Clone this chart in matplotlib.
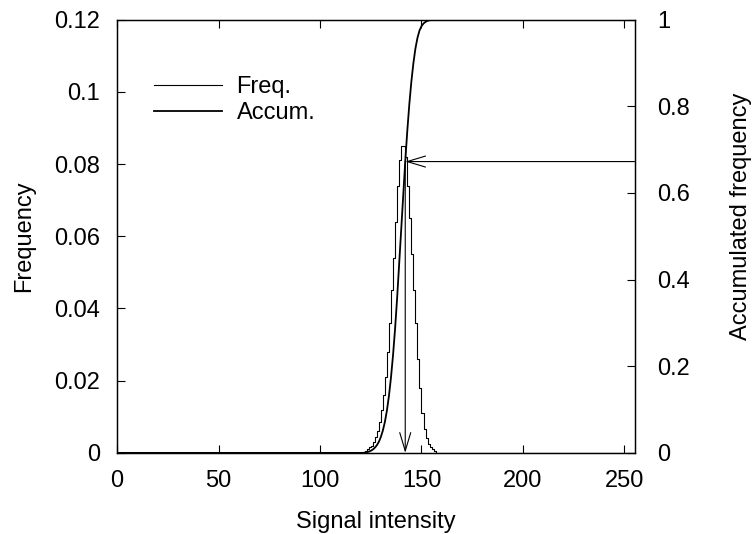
import numpy as np
from matplotlib import pyplot as plt
from matplotlib.ticker import FixedLocator, FuncFormatter

# histogram of signal intensity (bins 0..255), non-zero part starts at bin 122
first_bin = 122
freq_peak = [0.0005, 0.001, 0.0015, 0.002, 0.003, 0.0045, 0.006, 0.0085,
             0.012, 0.016, 0.021, 0.028, 0.036, 0.045, 0.054, 0.064,
             0.074, 0.081, 0.085, 0.085,
             0.082, 0.074, 0.065, 0.055, 0.045, 0.036, 0.026, 0.018,
             0.011, 0.0065, 0.004, 0.0025, 0.0015, 0.001, 0.0005]
threshold = 142

xticks = [0, 50, 100, 150, 200, 250]
freq_ticks = [0, 0.02, 0.04, 0.06, 0.08, 0.1, 0.12]
accum_ticks = [0, 0.2, 0.4, 0.6, 0.8, 1]

bins = np.arange(256)
freq = np.zeros(256)
freq[first_bin:first_bin + len(freq_peak)] = freq_peak
accum = np.cumsum(freq) / freq.sum()

plt.rcParams['font.family'] = ['Liberation Sans', 'DejaVu Sans']
plt.rcParams['font.size'] = 17

fig = plt.figure(figsize=(7.56, 5.34), dpi=100)
ax = fig.add_axes([0.1548, 0.1519, 0.6846, 0.8114])
ax2 = ax.twinx()

ax.step(bins, freq, where='post', color='k', lw=0.8, label='Freq.')
ax2.plot(bins, accum, color='k', lw=1.3, label='Accum.')

# threshold arrows: from right edge to the curve, then down to the x axis
y_thr = accum[threshold]
astyle = '->,head_length=0.6,head_width=0.18'
ax2.annotate('', xy=(threshold, y_thr), xytext=(255, y_thr),
             arrowprops=dict(arrowstyle=astyle, lw=0.8, color='k',
                             shrinkA=0, shrinkB=0, mutation_scale=22))
ax2.annotate('', xy=(threshold, 0), xytext=(threshold, y_thr),
             arrowprops=dict(arrowstyle=astyle, lw=0.8, color='k',
                             shrinkA=0, shrinkB=0, mutation_scale=22))

ax.set_xlim(0, 255)
ax.set_ylim(0, 0.12)
ax2.set_ylim(0, 1)

fmt = FuncFormatter(lambda v, p: f'{v:g}')
ax.xaxis.set_major_locator(FixedLocator(xticks))
ax.yaxis.set_major_locator(FixedLocator(freq_ticks))
ax2.yaxis.set_major_locator(FixedLocator(accum_ticks))
ax.yaxis.set_major_formatter(fmt)
ax2.yaxis.set_major_formatter(fmt)

ax.tick_params(axis='x', direction='in', length=6, width=0.8, top=True, pad=12)
ax.tick_params(axis='y', direction='in', length=6, width=0.8, right=False, pad=12)
ax2.tick_params(axis='y', direction='in', length=6, width=0.8, pad=16)
for a in (ax, ax2):
    for s in a.spines.values():
        s.set_linewidth(0.9)

ax.set_xlabel('Signal intensity', labelpad=14)
ax.set_ylabel('Frequency', labelpad=14)
ax2.set_ylabel('Accumulated frequency', labelpad=29)
ax2.yaxis.label.set_y(0.545)

h1, l1 = ax.get_legend_handles_labels()
h2, l2 = ax2.get_legend_handles_labels()
ax.legend(h1 + h2, l1 + l2, loc='upper left', bbox_to_anchor=(0.053, 0.892),
          frameon=False, handlelength=2.9, handletextpad=0.6,
          labelspacing=0.18, borderaxespad=0)

fig.savefig('out.png', dpi=100)
